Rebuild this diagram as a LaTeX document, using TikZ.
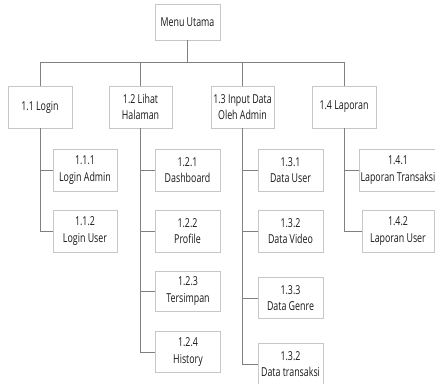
\documentclass[tikz,border=0pt]{standalone}
\usepackage{fontspec}
\setmainfont{Open Sans}[FakeStretch=0.72]
\begin{document}
\begin{tikzpicture}[x=1pt,y=-1pt,
  box/.style={draw=black!22, line width=0.6pt, fill=white, minimum width=65pt, minimum height=42pt,
    inner sep=1pt, align=center, text=black!90, font=\fontsize{12.3}{16.5}\selectfont},
  conn/.style={draw=black!50, line width=0.6pt}]
\useasboundingbox (0,0) rectangle (435,383);
\node[box, minimum width=65pt, minimum height=36pt] (menu) at (187.5,22) {Menu Utama};
\node[box, minimum width=64pt] (l1) at (40,107) {1.1 Login};
\node[box, minimum width=63pt] (l2) at (140.5,107) {1.2 Lihat\\Halaman};
\node[box, minimum width=63pt] (l3) at (242.5,107) {1.3 Input Data\\Oleh Admin};
\node[box, minimum width=64pt] (l4) at (344,107) {1.4 Laporan};
\coordinate (bus) at (187.5,62);
\draw[conn] (menu.south) -- (bus);
\draw[conn] (l1.north) |- (bus);
\draw[conn] (l2.north) |- (bus);
\draw[conn] (l3.north) |- (bus);
\draw[conn] (l4.north) |- (bus);
% children 1.1
\node[box, minimum width=64pt] (c111) at (85,170) {1.1.1\\Login Admin};
\node[box, minimum width=64pt] (c112) at (85,231) {1.1.2\\Login User};
% children 1.2
\node[box] (c121) at (187.5,170) {1.2.1\\Dashboard};
\node[box] (c122) at (187.5,231) {1.2.2\\Profile};
\node[box, minimum height=40pt] (c123) at (188,291) {1.2.3\\Tersimpan};
\node[box, minimum height=41pt] (c124) at (188,352) {1.2.4\\History};
% children 1.3
\node[box] (c131) at (290.5,170) {1.3.1\\Data User};
\node[box] (c132) at (290.5,231) {1.3.2\\Data Video};
\node[box, minimum height=41pt] (c133) at (290.5,298) {1.3.3\\Data Genre};
\node[box] (c134) at (290.5,364) {1.3.2\\Data transaksi};
% children 1.4
\node[box, minimum width=72pt] (c141) at (398,170) {1.4.1\\Laporan Transaksi};
\node[box, minimum width=72pt] (c142) at (398,231) {1.4.2\\Laporan User};
\foreach \p/\c in {l1/c111,l1/c112,l2/c121,l2/c122,l2/c123,l2/c124,l3/c131,l3/c132,l3/c133,l3/c134,l4/c141,l4/c142}
  \draw[conn] (\p.south) |- (\c.west);
\end{tikzpicture}
\end{document}
